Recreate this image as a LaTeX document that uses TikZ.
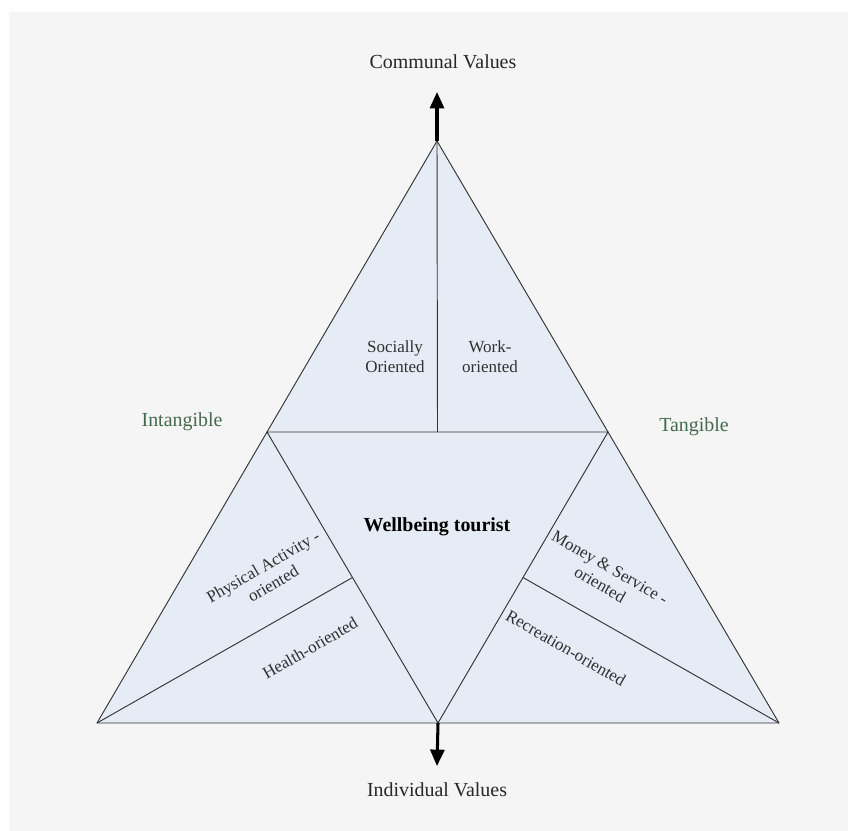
\documentclass[tikz,border=0pt]{standalone}
\usepackage{fontspec}
\setmainfont{Liberation Serif}
\usetikzlibrary{calc, arrows.meta}
\definecolor{xpanel}{HTML}{E6ECF6}
\definecolor{xline}{HTML}{333333}
\definecolor{xgreen}{HTML}{44694D}
\definecolor{xtext}{HTML}{303030}
\definecolor{xbgedge}{HTML}{F5F5F5}
\definecolor{xbgmid}{HTML}{DEDEDE}
\tikzset{
  segment/.style = {draw=xline, line width=0.8pt, line join=round},
  axisarrow/.style = {line width=2.6pt, -{Triangle[length=14pt, width=12pt]}},
  sectorlabel/.style = {text=xtext, align=center, font=\fontsize{14.5}{17}\selectfont, inner sep=0pt},
  sidelabel/.style = {text=xgreen, font=\fontsize{17}{20}\selectfont},
  poletext/.style = {text=black!85, font=\fontsize{17}{20}\selectfont},
}

\begin{document}
\begin{tikzpicture}[x=0.03cm, y=-0.03cm]
      \useasboundingbox (0,0) rectangle (848,830);
      \shade[top color=xbgedge, middle color=xbgmid, bottom color=xbgedge] (9,12) rectangle (848,830);

      \coordinate (top) at (437,141);
      \coordinate (bl) at (97,723);
      \coordinate (br) at (779,723);
      \coordinate (il) at ($(top)!0.5!(bl)$);
      \coordinate (ir) at ($(top)!0.5!(br)$);
      \coordinate (ib) at ($(bl)!0.5!(br)$);
      \coordinate (im) at ($(il)!0.5!(ir)$);
      \coordinate (sl) at ($(il)!0.5!(ib)$);
      \coordinate (sr) at ($(ir)!0.5!(ib)$);
      \coordinate (upend) at (437,92);
      \coordinate (downend) at (437,766);

      \path[fill=xpanel] (top) -- (bl) -- (br) -- cycle;
      \draw[segment] (top) -- (bl) -- (br) -- cycle;
      \draw[segment] (il) -- (ir) -- (ib) -- cycle;
      \draw[segment] (top) -- (im);
      \draw[segment] (bl) -- (sl);
      \draw[segment] (br) -- (sr);

      \draw[axisarrow] (top) -- (upend);
      \draw[axisarrow] (ib) -- (downend);

      \node[poletext] (communal) at (443,62) {Communal Values};
      \node[poletext] (individual) at (437,790) {Individual Values};
      \node[sidelabel] (intangible) at (182,422) {Intangible};
      \node[sidelabel] (tangible) at (694,427) {Tangible};

      \node[sectorlabel] (social) at (395,357) {Socially\\Oriented};
      \node[sectorlabel] (work) at (490,357) {Work-\\oriented};
      \node[font=\bfseries\fontsize{17}{20}\selectfont] (tourist) at (437,527) {Wellbeing tourist};
      \node[sectorlabel, rotate=30] (physical) at (268,575) {Physical Activity -\\oriented};
      \node[sectorlabel, rotate=30] (health) at (310,648) {Health-oriented};
      \node[sectorlabel, rotate=-30] (money) at (605,576) {Money \& Service -\\oriented};
      \node[sectorlabel, rotate=-30] (recreation) at (566,648) {Recreation-oriented};
    \end{tikzpicture}
\end{document}
